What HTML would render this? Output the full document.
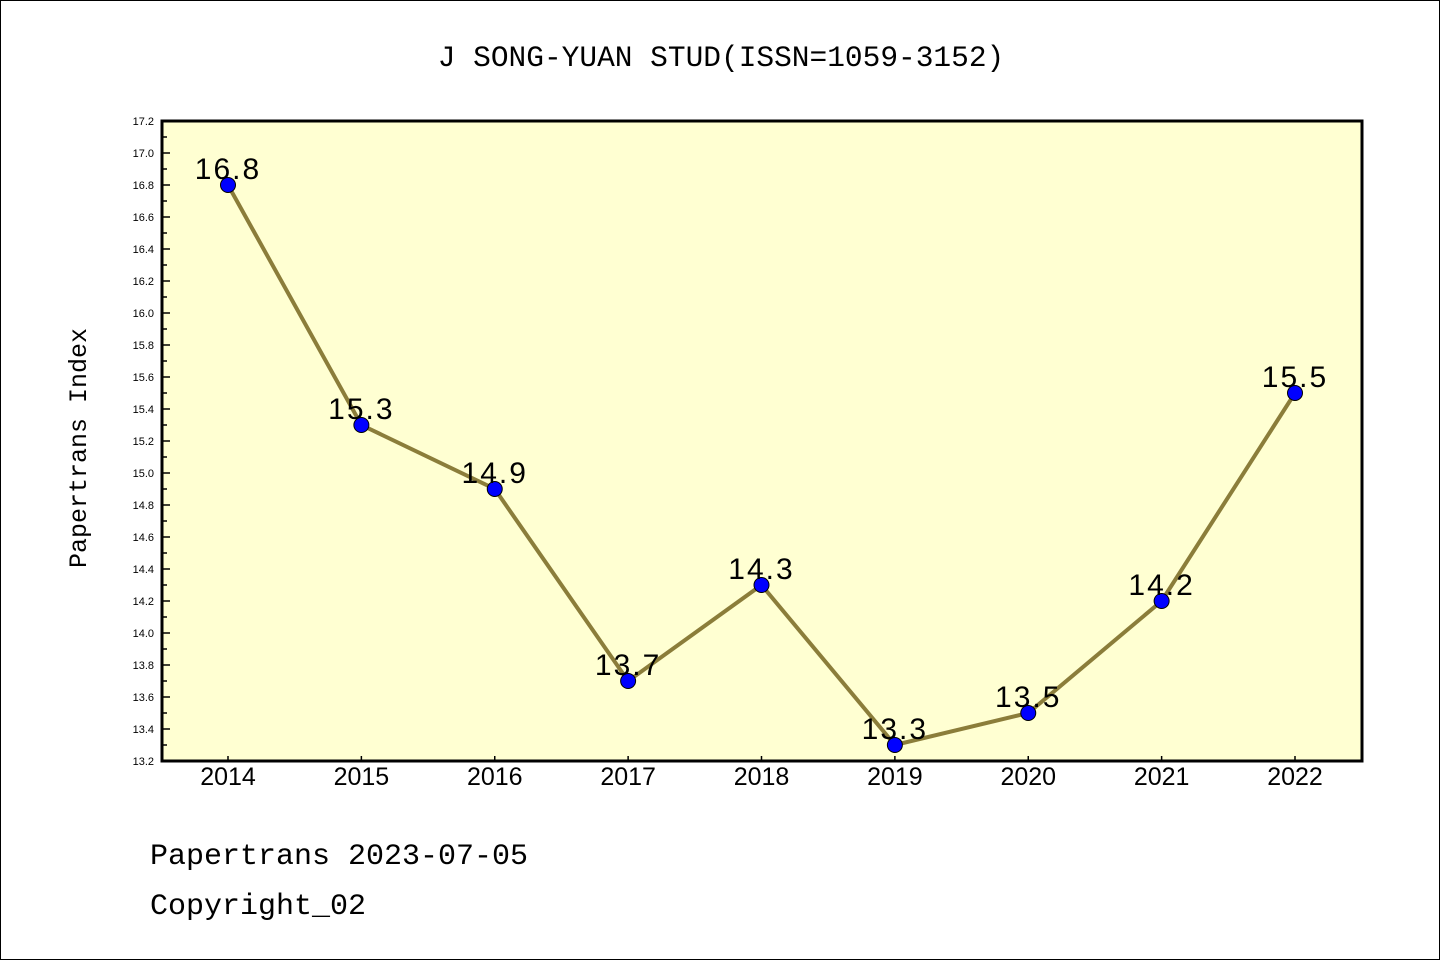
<!DOCTYPE html>
<html><head><meta charset="utf-8"><style>
html,body{margin:0;padding:0;background:#fff}
#wrap{position:relative;width:1440px;height:960px;box-sizing:border-box;border:1px solid #000;background:#fff}
svg{position:absolute;left:0;top:0}
</style></head><body>
<div id="wrap">
<svg id="chart" width="1440" height="960">
<rect x="161" y="120" width="1200" height="640" fill="#ffffd2" stroke="#000" stroke-width="3"/>
<text x="720" y="65" font-family="Liberation Mono, monospace" font-size="29.5" text-anchor="middle" fill="#000">J SONG-YUAN STUD(ISSN=1059-3152)</text>
<text transform="translate(85,447) rotate(-90)" font-family="Liberation Mono, monospace" font-size="25" text-anchor="middle" fill="#000">Papertrans Index</text>
<text x="149" y="863" font-family="Liberation Mono, monospace" font-size="30" fill="#000">Papertrans 2023-07-05</text>
<text x="149" y="913" font-family="Liberation Mono, monospace" font-size="30" fill="#000">Copyright_02</text>
<g id="axes"></g>
<g id="series"></g>
</svg>
</div>
<script>
const years = [2014,2015,2016,2017,2018,2019,2020,2021,2022];
const values = [16.8,15.3,14.9,13.7,14.3,13.3,13.5,14.2,15.5];
const yMin = 13.2, yMax = 17.2;
const yTickLabels = ["13.2","13.4","13.6","13.8","14.0","14.2","14.4","14.6","14.8","15.0","15.2","15.4","15.6","15.8","16.0","16.2","16.4","16.6","16.8","17.0","17.2"];

const L=161,R=1361,T=120,B=760;
const x = i => 227 + i*(1294-227)/(years.length-1);
const y = v => B - (v-yMin)/(yMax-yMin)*(B-T);
const NS='http://www.w3.org/2000/svg';
const axes=document.getElementById('axes'), series=document.getElementById('series');
function mk(tag,attrs,parent){const e=document.createElementNS(NS,tag);for(const k in attrs)e.setAttribute(k,attrs[k]);parent.appendChild(e);return e;}

yTickLabels.forEach((lab,i)=>{
  const v=parseFloat(lab), yy=y(v);
  const t=mk('line',{x1:L,x2:L+8,y1:yy,y2:yy,stroke:'#000','stroke-width':1.5},axes);
  
  
  const tx=mk('text',{x:153,y:yy+4,'font-family':'Liberation Sans, sans-serif','font-size':11,'text-anchor':'end',fill:'#000'},axes);
  tx.textContent=lab;
  
  
  if(i<yTickLabels.length-1){
    const ym=y(v+0.1);
    const m=mk('line',{x1:L,x2:L+5,y1:ym,y2:ym,stroke:'#000','stroke-width':1.5},axes);
    
    
  }
});
years.forEach((yr,i)=>{
  const xx=x(i);
  const t=mk('line',{x1:xx,x2:xx,y1:B,y2:B-5,stroke:'#000','stroke-width':1.5},axes);
  
  
  const tx=mk('text',{x:xx,y:784,'font-family':'Liberation Sans, sans-serif','font-size':25,'text-anchor':'middle',fill:'#000'},axes);
  tx.textContent=yr;
  
  
});
const pl=mk('polyline',{points:values.map((v,i)=>x(i)+','+y(v)).join(' '),fill:'none',stroke:'#8b7d3a','stroke-width':4},series);


values.forEach((v,i)=>{
  const c=mk('circle',{cx:x(i),cy:y(v),r:7.5,fill:'#0000ff',stroke:'#000','stroke-width':1},series);
  
  
  const tx=mk('text',{x:x(i),y:y(v)-6,'font-family':'Liberation Sans, sans-serif','font-size':30,'text-anchor':'middle','letter-spacing':'2',fill:'#000'},series);
  tx.textContent=v.toFixed(1);
  
  
});
</script>
</body></html>
